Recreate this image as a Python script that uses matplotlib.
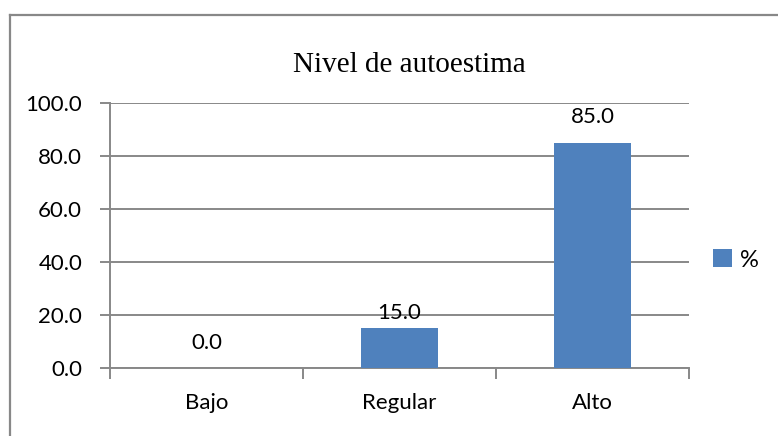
import matplotlib
matplotlib.use("Agg")
import matplotlib.pyplot as plt
from matplotlib.lines import Line2D

categories = ["Bajo", "Regular", "Alto"]
values = [0.0, 15.0, 85.0]
series_name = "%"
yticks = [0, 20, 40, 60, 80, 100]
title = "Nivel de autoestima"

bar_color = "#4F81BD"
grid_color = "#888888"
label_offsets = [13.5, 7, 14.5]  # points above bar top (baseline)
fs = 16

plt.rcParams['font.family'] = ['Lato', 'DejaVu Sans']

fig = plt.figure(figsize=(7.78, 4.36), dpi=100)
ax = fig.add_axes([110/778, 1-368/436, (689-110)/778, (368-103)/436])

x = list(range(len(categories)))
bars = ax.bar(x, values, width=0.4, color=bar_color, label=series_name, zorder=3)

for xi, v, off in zip(x, values, label_offsets):
    ax.annotate("%.1f" % v, (xi, v), xytext=(0, off), textcoords="offset points",
                ha="center", va="baseline", fontsize=fs, color="black")

ax.set_xlim(-0.5, len(categories)-0.5)
ax.set_ylim(0, 100)
ax.set_yticks(yticks)
ax.set_yticklabels(["%.1f" % t for t in yticks])
ax.yaxis.grid(True, color=grid_color, linewidth=1.4, zorder=0)
ax.set_axisbelow(True)

ax.set_xticks([i - 0.5 for i in range(len(categories)+1)], minor=False)
ax.set_xticklabels([])
ax.set_xticks(x, minor=True)
ax.set_xticklabels(categories, minor=True, fontsize=fs)
ax.tick_params(axis="x", which="major", length=8, width=1.4, color=grid_color, direction="out")
ax.tick_params(axis="x", which="minor", length=0, pad=18)
ax.tick_params(axis="y", length=7, width=1.4, color=grid_color, labelsize=fs, pad=13)

for s in ["top", "right"]:
    ax.spines[s].set_visible(False)
for s in ["left", "bottom"]:
    ax.spines[s].set_color(grid_color)
    ax.spines[s].set_linewidth(1.4)

fig.text(409/778, 1-65/436, title, ha="center", va="center",
         fontsize=21, family=["Liberation Serif"])

fig.legend(loc="center left", bbox_to_anchor=(713/778, 1-260/436), frameon=False,
           fontsize=17, handlelength=0.8, handleheight=0.8, handletextpad=0.35,
           borderpad=0, borderaxespad=0)

# outer chart border (top and left visible)
fig.add_artist(Line2D([10/778, 1], [1-15/436, 1-15/436], color=grid_color, linewidth=1.6,
                      transform=fig.transFigure))
fig.add_artist(Line2D([10/778, 10/778], [0, 1-15/436], color=grid_color, linewidth=1.6,
                      transform=fig.transFigure))

fig.savefig("out.png", dpi=100)
